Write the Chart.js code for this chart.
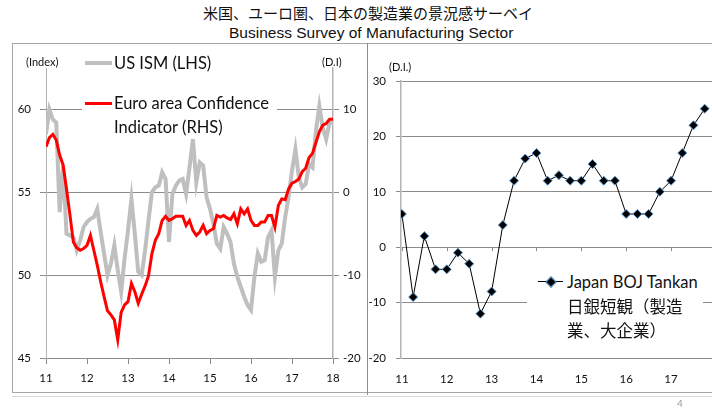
<!DOCTYPE html>
<html lang="ja">
<head>
<meta charset="UTF-8">
<script src="https://cdn.jsdelivr.net/npm/chart.js"></script>
<title>Business Survey of Manufacturing Sector</title>
<style>
  body { margin: 0; width: 712px; height: 409px; overflow: hidden; background: #fff; position: relative; font-family: Lato, "Noto Sans", sans-serif; color: #111; }
  .abs { position: absolute; white-space: nowrap; }
  #t1 { left: 203px; top: 3px; font: 15px "Noto Sans CJK JP"; line-height: 20px; }
  #t2 { left: 229px; top: 24px; font: 15.5px "Liberation Sans"; line-height: 18px; }
  .unit { font-size: 11px; line-height: 14px; }
  .leg { background: #fff; }
  .legtxt { font-size: 16.5px; line-height: 24px; }
</style>
</head>
<body>
  <div id="t1" class="abs">米国、ユーロ圏、日本の製造業の景況感サーベイ</div>
  <div id="t2" class="abs">Business Survey of Manufacturing Sector</div>

  <!-- frame -->
  <div class="abs" style="left:12px;top:43px;width:720px;height:348px;border:1px solid #a6a6a6;"></div>
  <div class="abs" style="left:367px;top:43px;width:1px;height:352px;background:#8c8c8c;"></div>
  <div class="abs" style="left:12px;top:396px;width:700px;height:1px;background:#d9d9d9;"></div>

  <div class="abs" style="left:0;top:40px;width:367px;height:350px;"><canvas id="cLeft" width="367" height="350"></canvas></div>
  <div class="abs" style="left:367px;top:40px;width:360px;height:350px;"><canvas id="cRight" width="360" height="350"></canvas></div>

  <div class="abs unit" style="left:26px;top:55px;">(Index)</div>
  <div class="abs unit" style="left:322px;top:55px;">(D.I)</div>
  <div class="abs unit" style="left:389px;top:60px;">(D.I.)</div>

  <!-- legend, left chart -->
  <div class="abs leg" style="left:82px;top:50px;width:195px;height:86px;"></div>
  <div class="abs" style="left:85px;top:61px;width:27px;height:4px;background:#bfbfbf;"></div>
  <div class="abs legtxt" style="left:114px;top:51px;">US ISM (LHS)</div>
  <div class="abs" style="left:85px;top:102px;width:27px;height:3px;background:#ff0000;"></div>
  <div class="abs legtxt" style="left:114px;top:91px;">Euro area Confidence<br>Indicator (RHS)</div>

  <!-- legend, right chart -->
  <div class="abs leg" style="left:527px;top:268px;width:176px;height:76px;"></div>
  <div class="abs" style="left:538px;top:281px;width:25px;height:1px;background:#000;"></div>
  <div class="abs" style="left:547px;top:278px;width:6px;height:6px;background:#000;border:1px solid #5b9bd5;transform:rotate(45deg);"></div>
  <div class="abs legtxt" style="left:567px;top:270px;">Japan BOJ Tankan</div>
  <div class="abs legtxt" style="left:567px;top:294px;font-family:'Noto Sans CJK JP';font-size:16.5px;">日銀短観（製造</div>
  <div class="abs legtxt" style="left:567px;top:318px;font-family:'Noto Sans CJK JP';font-size:16.5px;">業、大企業）</div>

  <div class="abs" style="left:677px;top:397px;font-size:10px;color:#999;">4</div>

<script>
  // monthly, Jan 2011 .. Jan 2018
  const yearLabels = ['11', '12', '13', '14', '15', '16', '17', '18'];
  const ismValues = [
    58.5, 60.0, 59.4, 59.2, 53.8, 56.6, 52.5, 52.4, 52.3, 51.5, 52.1, 52.9,
    53.2, 53.4, 53.5, 54.0, 52.6, 51.3, 50.0, 50.7, 51.8, 50.3, 49.0, 51.0,
    52.7, 54.6, 52.5, 50.2, 50.0, 51.5, 53.3, 55.0, 55.3, 55.4, 56.2, 55.8,
    52.0, 54.9, 55.4, 55.7, 55.8, 54.9, 56.5, 58.2, 55.6, 56.8, 56.6, 54.7,
    54.0, 53.1, 51.9, 51.6, 52.9, 52.5, 52.0, 50.7, 49.9, 49.3, 48.7, 48.2,
    47.9, 49.9, 51.3, 50.8, 50.9, 52.3, 52.7, 49.9, 51.5, 51.9, 53.5, 54.7,
    56.3, 57.6, 55.9, 55.3, 55.5, 56.7, 56.5, 58.7, 60.2, 58.9, 58.2, 59.2, 59.2
  ];
  const euroValues = [
    5.5, 6.6, 7.0, 6.3, 4.5, 3.3, 0.4, -2.7, -6.0, -6.7, -7.0, -6.8,
    -6.4, -5.2, -7.0, -8.8, -10.8, -12.6, -14.3, -14.8, -15.4, -17.8, -14.5, -13.6,
    -13.2, -11.0, -12.0, -13.4, -12.3, -11.3, -10.1, -7.4, -5.8, -5.0, -3.4, -2.9,
    -3.4, -3.2, -2.9, -2.9, -2.9, -4.0, -3.4, -4.6, -5.2, -4.8, -4.0, -5.0,
    -4.6, -4.4, -2.8, -3.0, -2.8, -3.1, -3.3, -2.6, -3.8, -2.0, -2.6, -2.0,
    -3.4, -4.0, -4.0, -3.6, -3.6, -2.8, -2.8, -4.2, -1.6, -0.8, -0.9, 0.4,
    1.1, 1.3, 1.6, 2.5, 2.9, 4.2, 4.7, 6.0, 7.3, 8.1, 8.3, 8.8, 8.8
  ];
  // quarterly, 2011Q1 .. 2017Q4
  const tankanValues = [
    6, -9, 2, -4, -4, -1, -3, -12,
    -8, 4, 12, 16, 17, 12, 13, 12,
    12, 15, 12, 12, 6, 6, 6, 10,
    12, 17, 22, 25
  ];
  const leftTicks = [45, 50, 55, 60];
  const rightTicks = [-20, -10, 0, 10];
  const tankanTicks = [-20, -10, 0, 10, 20, 30];

  const tickFont = { family: 'Lato', size: 11.5 };
  const gridCol = '#8c8c8c';
  const axisCol = '#b3b3b3';

  const toPoints = arr => arr.map((v, i) => ({ x: i, y: v }));
  const fixTicks = list => axis => { axis.ticks = list.map(v => ({ value: v })); };

  new Chart(document.getElementById('cLeft'), {
    type: 'line',
    data: {
      datasets: [
        { label: 'Euro area Confidence Indicator (RHS)', data: toPoints(euroValues), yAxisID: 'y2',
          borderColor: '#ff0000', borderWidth: 3, pointRadius: 0, tension: 0, order: 1 },
        { label: 'US ISM (LHS)', data: toPoints(ismValues), yAxisID: 'y',
          borderColor: '#bfbfbf', borderWidth: 4, pointRadius: 0, tension: 0, order: 2 }
      ]
    },
    options: {
      responsive: false, animation: false,
      layout: { padding: { top: 28, left: 0, right: 0, bottom: 0 } },
      plugins: { legend: { display: false }, tooltip: { enabled: false } },
      scales: {
        x: {
          type: 'linear', min: 0, max: 84,
          afterBuildTicks: axis => { axis.ticks = yearLabels.map((_, i) => ({ value: i * 12 })); },
          afterFit: s => { s.height = 32; },
          ticks: { font: tickFont, color: '#111', padding: 7, maxRotation: 0,
                   callback: v => yearLabels[v / 12] },
          grid: { drawOnChartArea: false, color: gridCol, tickLength: 6 },
          border: { color: gridCol }
        },
        y: {
          position: 'left', min: 45, max: 62.5,
          afterBuildTicks: fixTicks(leftTicks),
          afterFit: s => { s.width = 46; },
          ticks: { font: tickFont, color: '#111', padding: 9 },
          grid: { color: gridCol, tickLength: 6 },
          border: { color: axisCol }
        },
        y2: {
          position: 'right', min: -20, max: 15,
          afterBuildTicks: fixTicks(rightTicks),
          afterFit: s => { s.width = 34; },
          ticks: { font: tickFont, color: '#111', padding: 4 },
          grid: { drawOnChartArea: false, color: gridCol, tickLength: 6 },
          border: { color: axisCol, width: 1.5 }
        }
      }
    }
  });

  // small tick marks on the zero line of the Tankan chart
  const zeroTicks = {
    id: 'zeroTicks',
    afterDatasetsDraw(chart) {
      const { ctx, scales: { x, y } } = chart;
      const y0 = y.getPixelForValue(0);
      ctx.save();
      ctx.strokeStyle = gridCol;
      ctx.lineWidth = 1;
      x.ticks.forEach(t => {
        const px = Math.round(x.getPixelForValue(t.value)) + 0.5;
        ctx.beginPath(); ctx.moveTo(px, y0); ctx.lineTo(px, y0 + 4); ctx.stroke();
      });
      ctx.restore();
    }
  };

  new Chart(document.getElementById('cRight'), {
    type: 'line',
    data: {
      datasets: [{
        label: 'Japan BOJ Tankan 日銀短観（製造業、大企業）',
        data: toPoints(tankanValues),
        borderColor: '#000', borderWidth: 1, tension: 0,
        pointStyle: 'rectRot', pointRadius: 4.5,
        pointBackgroundColor: '#000', pointBorderColor: '#5b9bd5', pointBorderWidth: 1
      }]
    },
    options: {
      responsive: false, animation: false,
      layout: { padding: { top: 41, left: 0, right: 0, bottom: 0 } },
      plugins: { legend: { display: false }, tooltip: { enabled: false } },
      scales: {
        x: {
          type: 'linear', min: -0.08, max: 28.5,
          afterBuildTicks: axis => { axis.ticks = yearLabels.slice(0, 7).map((_, i) => ({ value: i * 4 })); },
          afterFit: s => { s.height = 32; },
          ticks: { font: tickFont, color: '#111', padding: 14, maxRotation: 0,
                   callback: v => yearLabels[v / 4] },
          grid: { display: true, drawOnChartArea: false, drawTicks: false },
          border: { display: false }
        },
        y: {
          min: -20, max: 30,
          afterBuildTicks: fixTicks(tankanTicks),
          afterFit: s => { s.width = 34; },
          ticks: { font: tickFont, color: '#111', padding: 10 },
          grid: { color: gridCol, tickLength: 5 },
          border: { color: axisCol, width: 1.5 }
        }
      }
    },
    plugins: [zeroTicks]
  });
</script>
</body>
</html>
